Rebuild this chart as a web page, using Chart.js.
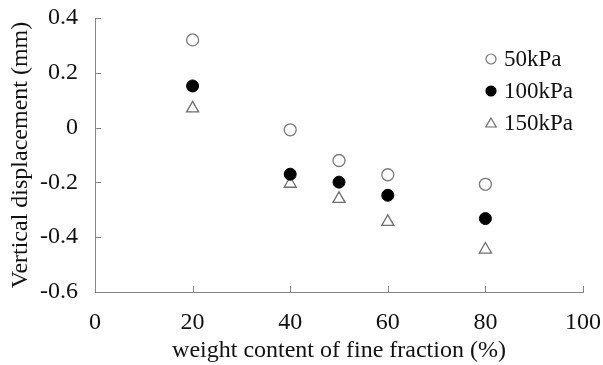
<!DOCTYPE html>
<html>
<head>
<meta charset="utf-8">
<script src="https://cdn.jsdelivr.net/npm/chart.js@4/dist/chart.umd.min.js"></script>
<style>
  html, body { margin: 0; padding: 0; background: #fff; }
  #wrap { width: 603px; height: 365px; }
</style>
</head>
<body>
<div id="wrap"><canvas id="chart-disp" width="603" height="365"></canvas></div>
<script>
/* global Chart */

// fine fraction content (%) and vertical displacement (mm) per load
const fineContent = [20, 40, 50, 60, 80];
const disp50kPa = [0.32, -0.008, -0.12, -0.172, -0.207];
const disp100kPa = [0.152, -0.17, -0.199, -0.247, -0.332];
const disp150kPa = [0.07, -0.205, -0.26, -0.344, -0.445];
const seriesLabels = ["50kPa", "100kPa", "150kPa"];
const xTicks = [0, 20, 40, 60, 80, 100];
const yTicks = [-0.6, -0.4, -0.2, 0, 0.2, 0.4];

const serif = "\"Liberation Serif\", \"Times New Roman\", serif";
const axisGray = "#858585";

function pairs(ys) {
  return fineContent.map((x, i) => ({ x, y: ys[i] }));
}

// short inward tick marks like the original plot
const innerTicks = {
  id: "innerTicks",
  afterDraw(chart) {
    const { ctx, chartArea, scales } = chart;
    ctx.save();
    ctx.strokeStyle = axisGray;
    ctx.lineWidth = 1;
    ctx.beginPath();
    xTicks.forEach((v) => {
      if (v === 0) return;
      const px = Math.round(scales.x.getPixelForValue(v)) + 0.5;
      ctx.moveTo(px, chartArea.bottom);
      ctx.lineTo(px, chartArea.bottom - 6);
    });
    yTicks.forEach((v) => {
      if (v === -0.6) return;
      const py = Math.round(scales.y.getPixelForValue(v)) + 0.5;
      ctx.moveTo(chartArea.left, py);
      ctx.lineTo(chartArea.left + 6, py);
    });
    ctx.stroke();
    ctx.restore();
  },
};

// legend drawn inside the plot, top right
const insideLegend = {
  id: "insideLegend",
  afterDraw(chart) {
    const { ctx } = chart;
    ctx.save();
    ctx.font = "23px " + serif;
    ctx.textBaseline = "middle";
    chart.data.datasets.forEach((ds, i) => {
      const y = 59 + i * 32;
      ctx.fillStyle = ds.backgroundColor;
      ctx.strokeStyle = ds.borderColor;
      ctx.lineWidth = 1.2;
      Chart.helpers.drawPoint(ctx, {
        pointStyle: ds.pointStyle,
        radius: ds.pointStyle === "triangle" ? 6 : 5,
        rotation: 0,
        borderWidth: 1.2,
      }, 491, ds.pointStyle === "triangle" ? y + 1 : y);
      ctx.fillStyle = "#111";
      ctx.fillText(ds.label, 504, y + 1);
    });
    ctx.restore();
  },
};

new Chart(document.getElementById("chart-disp"), {
  type: "scatter",
  data: {
    datasets: [
      {
        label: seriesLabels[0],
        data: pairs(disp50kPa),
        pointStyle: "circle",
        pointRadius: 6,
        backgroundColor: "#ffffff",
        borderColor: "#7a7a7a",
        borderWidth: 1.3,
      },
      {
        label: seriesLabels[1],
        data: pairs(disp100kPa),
        pointStyle: "circle",
        pointRadius: 6,
        backgroundColor: "#000000",
        borderColor: "#000000",
        borderWidth: 1,
      },
      {
        label: seriesLabels[2],
        data: pairs(disp150kPa),
        pointStyle: "triangle",
        pointRadius: 7,
        backgroundColor: "#ffffff",
        borderColor: "#6e6e6e",
        borderWidth: 1.3,
      },
    ],
  },
  options: {
    responsive: false,
    animation: false,
    layout: { padding: { left: 0, right: 20, top: 18, bottom: 0 } },
    plugins: { legend: { display: false }, tooltip: { enabled: false } },
    scales: {
      x: {
        type: "linear",
        min: 0,
        max: 100,
        afterBuildTicks: (s) => { s.ticks = xTicks.map((v) => ({ value: v })); },
        afterFit: (s) => { s.height = 73; s.paddingLeft = 0; s.paddingRight = 0; },
        grid: { display: true, drawOnChartArea: false, drawTicks: false },
        border: { display: true, color: axisGray, width: 1 },
        ticks: { color: "#111", font: { family: serif, size: 24 }, padding: 16, maxRotation: 0 },
        title: {
          display: true,
          text: "weight content of fine fraction (%)",
          color: "#111",
          font: { family: serif, size: 24 },
          padding: { top: 0, bottom: 0 },
        },
      },
      y: {
        type: "linear",
        min: -0.6,
        max: 0.4,
        afterBuildTicks: (s) => { s.ticks = yTicks.map((v) => ({ value: v })); },
        afterFit: (s) => { s.width = 95; s.paddingTop = 0; s.paddingBottom = 0; },
        grid: { display: true, drawOnChartArea: false, drawTicks: false },
        border: { display: true, color: axisGray, width: 1 },
        ticks: {
          color: "#111",
          font: { family: serif, size: 24 },
          padding: 17,
          callback: (v) => (Math.abs(v) < 1e-9 ? "0" : String(Math.round(v * 10) / 10)),
        },
        title: {
          display: true,
          text: "Vertical displacement (mm)",
          color: "#111",
          font: { family: serif, size: 24 },
          padding: { top: 6, bottom: 0 },
        },
      },
    },
  },
  plugins: [innerTicks, insideLegend],
});
</script>
</body>
</html>
